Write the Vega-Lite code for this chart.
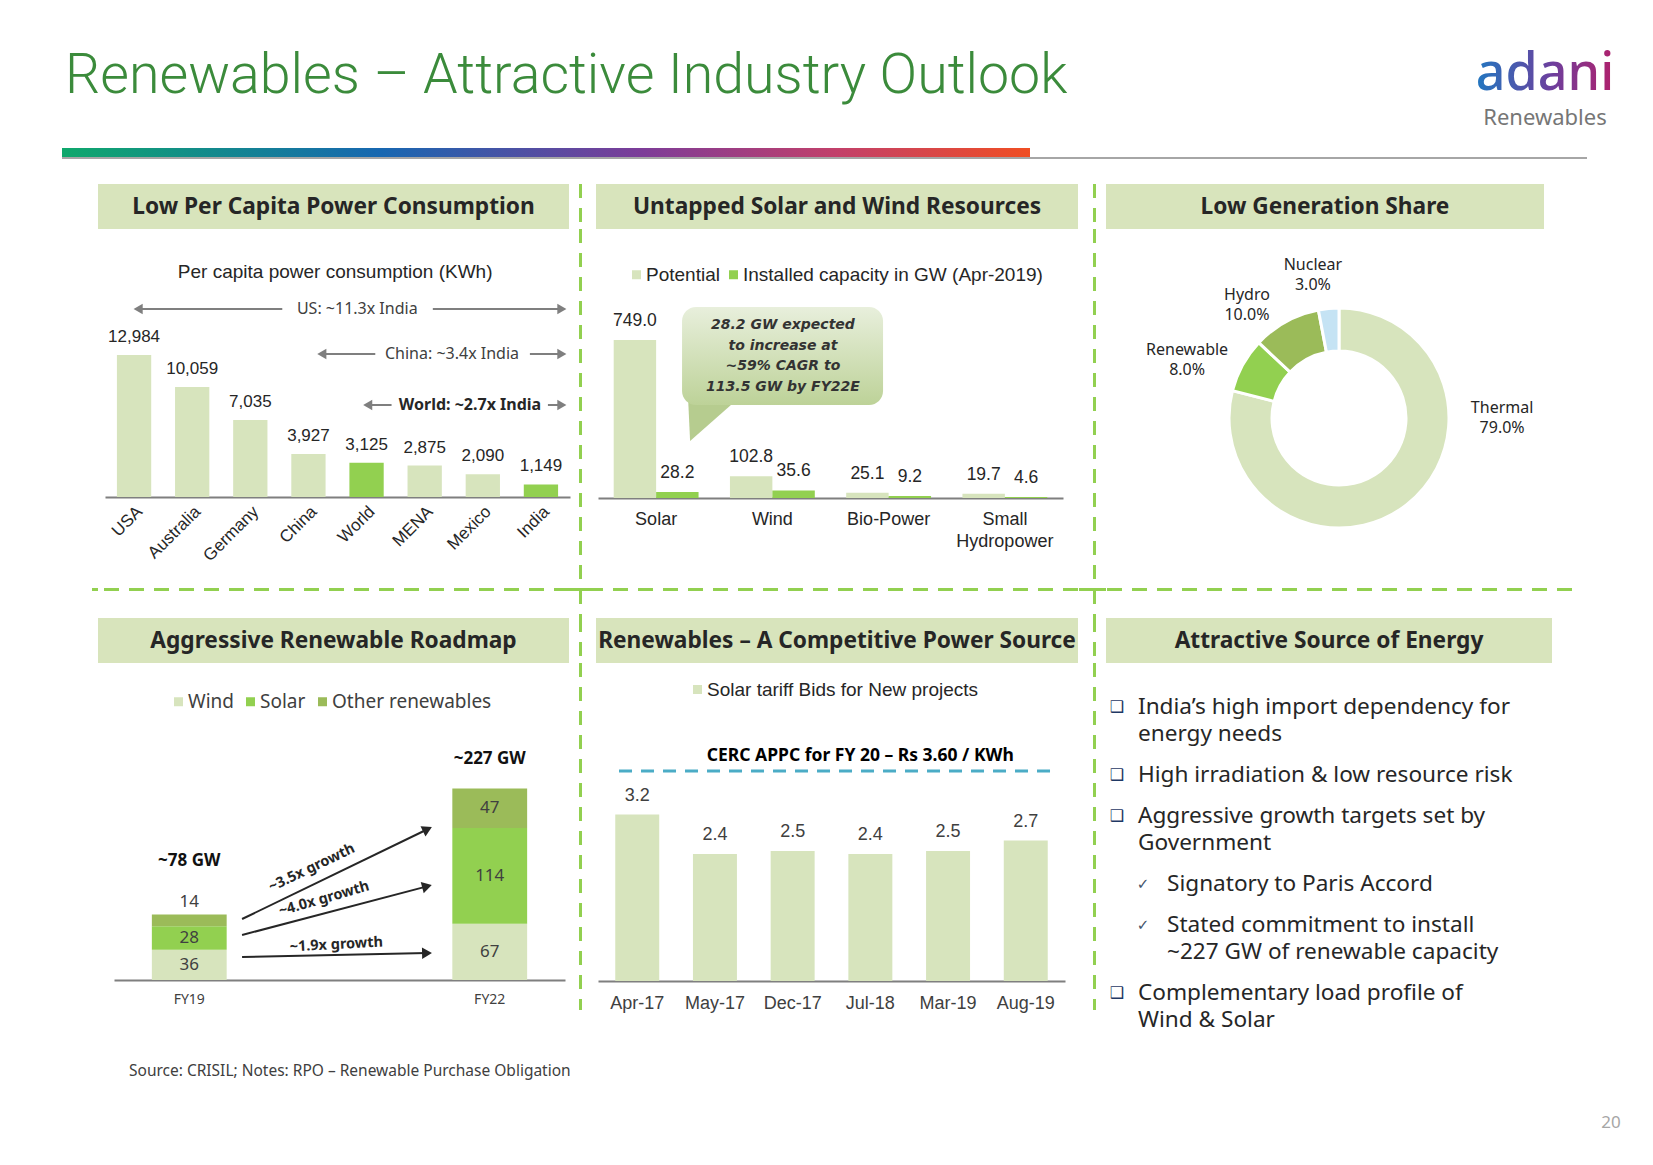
{
"$schema": "https://vega.github.io/schema/vega-lite/v6.json",
"padding": 0,
"background": "white",
"spacing": 0,
"resolve": {"scale": {"color": "independent", "xOffset": "independent", "theta": "independent"}},
"config": {"view": {"stroke": null}, "font": "Liberation Sans"},
"vconcat": [
 {"width": 1653, "height": 148, "view": {"fill": "white"}, "data": {"values": [{}]},
  "layer": [
   {"mark": {"type": "text", "text": "Renewables – Attractive Industry Outlook", "align": "left", "baseline": "alphabetic", "dx": -761.5, "dy": 19, "font": "Roboto", "fontWeight": 300, "fontSize": 55.5, "color": "#3b8b3b"}},
   {"mark": {"type": "text", "text": "adani", "align": "center", "baseline": "alphabetic", "dx": 718.5, "dy": 16, "font": "Noto Sans", "fontSize": 52, "fontWeight": 500, "fill": {"gradient": "linear", "x1": 0, "y1": 0, "x2": 1, "y2": 0, "stops": [{"offset": 0, "color": "#2277c0"}, {"offset": 0.55, "color": "#6d3f9d"}, {"offset": 1, "color": "#b0206c"}]}}},
   {"mark": {"type": "text", "text": "Renewables", "align": "center", "baseline": "alphabetic", "dx": 718.5, "dy": 51, "font": "Noto Sans", "fontSize": 22, "color": "#767676"}}
  ]},
 {"width": 1653, "height": 9, "view": {"fill": {"gradient": "linear", "x1": 0, "y1": 0, "x2": 1, "y2": 0, "stops": [{"offset": 0, "color": "#ffffff"}, {"offset": 0.0375, "color": "#ffffff"}, {"offset": 0.0375, "color": "#0fa86c"}, {"offset": 0.2307, "color": "#1767b1"}, {"offset": 0.3889, "color": "#7d3c98"}, {"offset": 0.506, "color": "#c2406a"}, {"offset": 0.6231, "color": "#f04e23"}, {"offset": 0.6231, "color": "#ffffff"}, {"offset": 1, "color": "#ffffff"}]}}, "data": {"values": []}, "mark": "text"},
 {"width": 1653, "height": 2, "view": {"fill": {"gradient": "linear", "x1": 0, "y1": 0, "x2": 1, "y2": 0, "stops": [{"offset": 0, "color": "#ffffff"}, {"offset": 0.0375, "color": "#ffffff"}, {"offset": 0.0375, "color": "#a6a6a6"}, {"offset": 0.9601, "color": "#a6a6a6"}, {"offset": 0.9601, "color": "#ffffff"}, {"offset": 1, "color": "#ffffff"}]}}, "data": {"values": []}, "mark": "text"},
 {"width": 1, "height": 23, "data": {"values": []}, "mark": "text"},
 {"columns": 11, "spacing": 0, "bounds": "flush", "align": "each",
  "resolve": {"scale": {"color": "independent", "xOffset": "independent", "theta": "independent"}},
  "concat": [
   {"width": 92, "height": 1, "data": {"values": []}, "mark": "text"},
   {"width": 6, "height": 1, "data": {"values": []}, "mark": "text"},
   {"width": 471, "height": 45, "view": {"fill": "#d8e4bc"}, "data": {"values": [{}]}, "mark": {"type": "text", "text": "Low Per Capita Power Consumption", "font": "Noto Sans", "fontSize": 22.7, "fontWeight": "bold", "color": "#262626", "baseline": "middle"}},
   {"width": 11, "height": 1, "data": {"values": []}, "mark": "text"},
   {"width": 1, "height": 45, "data": {"values": [{}]}, "mark": {"type": "rule", "color": "#92d050", "strokeWidth": 3, "strokeDash": [14, 10]}, "encoding": {"x": {"datum": 0, "type": "quantitative", "scale": {"domain": [-1, 1]}, "axis": null}}},
   {"width": 15, "height": 1, "data": {"values": []}, "mark": "text"},
   {"width": 482, "height": 45, "view": {"fill": "#d8e4bc"}, "data": {"values": [{}]}, "mark": {"type": "text", "text": "Untapped Solar and Wind Resources", "font": "Noto Sans", "fontSize": 22.7, "fontWeight": "bold", "color": "#262626", "baseline": "middle"}},
   {"width": 16, "height": 1, "data": {"values": []}, "mark": "text"},
   {"width": 1, "height": 45, "data": {"values": [{}]}, "mark": {"type": "rule", "color": "#92d050", "strokeWidth": 3, "strokeDash": [14, 10]}, "encoding": {"x": {"datum": 0, "type": "quantitative", "scale": {"domain": [-1, 1]}, "axis": null}}},
   {"width": 11, "height": 1, "data": {"values": []}, "mark": "text"},
   {"width": 438, "height": 45, "view": {"fill": "#d8e4bc"}, "data": {"values": [{}]}, "mark": {"type": "text", "text": "Low Generation Share", "font": "Noto Sans", "fontSize": 22.7, "fontWeight": "bold", "color": "#262626", "baseline": "middle"}},

   {"width": 92, "height": 1, "data": {"values": []}, "mark": "text"},
   {"width": 6, "height": 1, "data": {"values": []}, "mark": "text"},
   {"width": 471, "height": 268,
    "resolve": {"scale": {"x": "independent"}},
    "layer": [
     {"data": {"values": [
        {"country": "USA", "kwh": 12984},
        {"country": "Australia", "kwh": 10059},
        {"country": "Germany", "kwh": 7035},
        {"country": "China", "kwh": 3927},
        {"country": "World", "kwh": 3125},
        {"country": "MENA", "kwh": 2875},
        {"country": "Mexico", "kwh": 2090},
        {"country": "India", "kwh": 1149}]},
      "encoding": {
        "x": {"field": "country", "type": "nominal", "sort": null, "scale": {"range": [7, 472], "paddingInner": 0.41, "paddingOuter": 0.205}, "axis": {"title": null, "labelAngle": -45, "ticks": false, "domainColor": "#7f7f7f", "domainWidth": 2, "labelFont": "Liberation Sans", "labelFontSize": 17, "labelColor": "#262626", "labelPadding": 6, "labelOverlap": false, "grid": false}},
        "y": {"field": "kwh", "type": "quantitative", "scale": {"domain": [0, 24500], "nice": false}, "axis": null}
      },
      "layer": [
        {"mark": {"type": "bar"}, "encoding": {"color": {"condition": {"test": "datum.country === 'World' || datum.country === 'India'", "value": "#92d050"}, "value": "#d7e4bd"}}},
        {"mark": {"type": "text", "baseline": "alphabetic", "dy": -13, "font": "Liberation Sans", "fontSize": 17, "color": "#262626"}, "encoding": {"text": {"field": "kwh", "type": "quantitative", "format": ","}}}
      ]},
     {"data": {"values": [{}]},
      "layer": [
        {"mark": {"type": "text", "text": "Per capita power consumption (KWh)", "font": "Liberation Sans", "fontSize": 19, "color": "#262626", "baseline": "middle"}, "encoding": {"x": {"datum": 3.96, "type": "quantitative", "scale": {"domain": [0, 8], "range": [7, 472], "nice": false, "zero": false}, "axis": null}, "y": {"datum": 20567, "type": "quantitative", "scale": {"domain": [0, 24500], "nice": false}, "axis": null}}},
        {"mark": {"type": "rule", "color": "#7f7f7f", "strokeWidth": 2}, "encoding": {"x": {"datum": 0.57, "type": "quantitative", "scale": {"domain": [0, 8], "range": [7, 472], "nice": false, "zero": false}, "axis": null}, "x2": {"datum": 3.05}, "y": {"datum": 17185, "type": "quantitative", "scale": {"domain": [0, 24500], "nice": false}, "axis": null}}},
        {"mark": {"type": "rule", "color": "#7f7f7f", "strokeWidth": 2}, "encoding": {"x": {"datum": 5.64, "type": "quantitative", "scale": {"domain": [0, 8], "range": [7, 472], "nice": false, "zero": false}, "axis": null}, "x2": {"datum": 7.86}, "y": {"datum": 17185, "type": "quantitative", "scale": {"domain": [0, 24500], "nice": false}, "axis": null}}},
        {"mark": {"type": "point", "shape": "triangle-left", "size": 110, "filled": true, "color": "#7f7f7f", "opacity": 1}, "encoding": {"x": {"datum": 0.57, "type": "quantitative", "scale": {"domain": [0, 8], "range": [7, 472], "nice": false, "zero": false}, "axis": null}, "y": {"datum": 17185, "type": "quantitative", "scale": {"domain": [0, 24500], "nice": false}, "axis": null}}},
        {"mark": {"type": "point", "shape": "triangle-right", "size": 110, "filled": true, "color": "#7f7f7f", "opacity": 1}, "encoding": {"x": {"datum": 7.86, "type": "quantitative", "scale": {"domain": [0, 8], "range": [7, 472], "nice": false, "zero": false}, "axis": null}, "y": {"datum": 17185, "type": "quantitative", "scale": {"domain": [0, 24500], "nice": false}, "axis": null}}},
        {"mark": {"type": "text", "text": "US: ~11.3x India", "font": "Noto Sans", "fontSize": 16, "color": "#404040", "baseline": "middle"}, "encoding": {"x": {"datum": 4.34, "type": "quantitative", "scale": {"domain": [0, 8], "range": [7, 472], "nice": false, "zero": false}, "axis": null}, "y": {"datum": 17185, "type": "quantitative", "scale": {"domain": [0, 24500], "nice": false}, "axis": null}}},
        {"mark": {"type": "rule", "color": "#7f7f7f", "strokeWidth": 2}, "encoding": {"x": {"datum": 3.73, "type": "quantitative", "scale": {"domain": [0, 8], "range": [7, 472], "nice": false, "zero": false}, "axis": null}, "x2": {"datum": 4.65}, "y": {"datum": 13071, "type": "quantitative", "scale": {"domain": [0, 24500], "nice": false}, "axis": null}}},
        {"mark": {"type": "rule", "color": "#7f7f7f", "strokeWidth": 2}, "encoding": {"x": {"datum": 7.31, "type": "quantitative", "scale": {"domain": [0, 8], "range": [7, 472], "nice": false, "zero": false}, "axis": null}, "x2": {"datum": 7.86}, "y": {"datum": 13071, "type": "quantitative", "scale": {"domain": [0, 24500], "nice": false}, "axis": null}}},
        {"mark": {"type": "point", "shape": "triangle-left", "size": 110, "filled": true, "color": "#7f7f7f", "opacity": 1}, "encoding": {"x": {"datum": 3.73, "type": "quantitative", "scale": {"domain": [0, 8], "range": [7, 472], "nice": false, "zero": false}, "axis": null}, "y": {"datum": 13071, "type": "quantitative", "scale": {"domain": [0, 24500], "nice": false}, "axis": null}}},
        {"mark": {"type": "point", "shape": "triangle-right", "size": 110, "filled": true, "color": "#7f7f7f", "opacity": 1}, "encoding": {"x": {"datum": 7.86, "type": "quantitative", "scale": {"domain": [0, 8], "range": [7, 472], "nice": false, "zero": false}, "axis": null}, "y": {"datum": 13071, "type": "quantitative", "scale": {"domain": [0, 24500], "nice": false}, "axis": null}}},
        {"mark": {"type": "text", "text": "China: ~3.4x India", "font": "Noto Sans", "fontSize": 16, "color": "#404040", "baseline": "middle"}, "encoding": {"x": {"datum": 5.97, "type": "quantitative", "scale": {"domain": [0, 8], "range": [7, 472], "nice": false, "zero": false}, "axis": null}, "y": {"datum": 13071, "type": "quantitative", "scale": {"domain": [0, 24500], "nice": false}, "axis": null}}},
        {"mark": {"type": "rule", "color": "#7f7f7f", "strokeWidth": 2}, "encoding": {"x": {"datum": 4.52, "type": "quantitative", "scale": {"domain": [0, 8], "range": [7, 472], "nice": false, "zero": false}, "axis": null}, "x2": {"datum": 4.93}, "y": {"datum": 8410, "type": "quantitative", "scale": {"domain": [0, 24500], "nice": false}, "axis": null}}},
        {"mark": {"type": "rule", "color": "#7f7f7f", "strokeWidth": 2}, "encoding": {"x": {"datum": 7.62, "type": "quantitative", "scale": {"domain": [0, 8], "range": [7, 472], "nice": false, "zero": false}, "axis": null}, "x2": {"datum": 7.86}, "y": {"datum": 8410, "type": "quantitative", "scale": {"domain": [0, 24500], "nice": false}, "axis": null}}},
        {"mark": {"type": "point", "shape": "triangle-left", "size": 110, "filled": true, "color": "#7f7f7f", "opacity": 1}, "encoding": {"x": {"datum": 4.52, "type": "quantitative", "scale": {"domain": [0, 8], "range": [7, 472], "nice": false, "zero": false}, "axis": null}, "y": {"datum": 8410, "type": "quantitative", "scale": {"domain": [0, 24500], "nice": false}, "axis": null}}},
        {"mark": {"type": "point", "shape": "triangle-right", "size": 110, "filled": true, "color": "#7f7f7f", "opacity": 1}, "encoding": {"x": {"datum": 7.86, "type": "quantitative", "scale": {"domain": [0, 8], "range": [7, 472], "nice": false, "zero": false}, "axis": null}, "y": {"datum": 8410, "type": "quantitative", "scale": {"domain": [0, 24500], "nice": false}, "axis": null}}},
        {"mark": {"type": "text", "text": "World: ~2.7x India", "font": "Noto Sans", "fontSize": 16, "fontWeight": "bold", "color": "#262626", "baseline": "middle"}, "encoding": {"x": {"datum": 6.28, "type": "quantitative", "scale": {"domain": [0, 8], "range": [7, 472], "nice": false, "zero": false}, "axis": null}, "y": {"datum": 8410, "type": "quantitative", "scale": {"domain": [0, 24500], "nice": false}, "axis": null}}}
      ]}
    ]},
   {"width": 11, "height": 1, "data": {"values": []}, "mark": "text"},
   {"width": 1, "height": 360, "data": {"values": [{}]}, "mark": {"type": "rule", "color": "#92d050", "strokeWidth": 3, "strokeDash": [14, 10]}, "encoding": {"x": {"datum": 0, "type": "quantitative", "scale": {"domain": [-1, 1]}, "axis": null}}},
   {"width": 15, "height": 1, "data": {"values": []}, "mark": "text"},
   {"width": 482, "height": 269,
    "resolve": {"scale": {"x": "independent"}},
    "layer": [
     {"data": {"values": [
        {"resource": "Solar", "series": "Potential", "gw": 749.0},
        {"resource": "Solar", "series": "Installed capacity in GW (Apr-2019)", "gw": 28.2},
        {"resource": "Wind", "series": "Potential", "gw": 102.8},
        {"resource": "Wind", "series": "Installed capacity in GW (Apr-2019)", "gw": 35.6},
        {"resource": "Bio-Power", "series": "Potential", "gw": 25.1},
        {"resource": "Bio-Power", "series": "Installed capacity in GW (Apr-2019)", "gw": 9.2},
        {"resource": "Small Hydropower", "series": "Potential", "gw": 19.7},
        {"resource": "Small Hydropower", "series": "Installed capacity in GW (Apr-2019)", "gw": 4.6}]},
      "encoding": {
        "x": {"field": "resource", "type": "nominal", "sort": null, "scale": {"range": [2, 467], "paddingInner": 0.27, "paddingOuter": 0.135}, "axis": {"title": null, "labelAngle": 0, "ticks": false, "domainColor": "#7f7f7f", "domainWidth": 2, "labelFont": "Liberation Sans", "labelFontSize": 18, "labelColor": "#262626", "labelPadding": 12, "labelExpr": "split(datum.label, ' ')", "labelLineHeight": 22, "labelOverlap": false, "grid": false}},
        "xOffset": {"field": "series", "type": "nominal", "sort": null},
        "y": {"field": "gw", "type": "quantitative", "scale": {"domain": [0, 1275.5], "nice": false}, "axis": null}
      },
      "layer": [
        {"mark": {"type": "bar"}, "encoding": {"color": {"field": "series", "type": "nominal", "sort": null, "scale": {"domain": ["Potential", "Installed capacity in GW (Apr-2019)"], "range": ["#d7e4bd", "#92d050"]}, "legend": {"orient": "none", "legendX": 31, "legendY": 36, "direction": "horizontal", "title": null, "symbolType": "square", "symbolSize": 81, "symbolStrokeWidth": 0, "labelFont": "Liberation Sans", "labelFontSize": 19, "labelColor": "#262626", "labelLimit": 400, "columnPadding": 4, "labelOffset": 0, "padding": 0}}}},
        {"mark": {"type": "text", "baseline": "alphabetic", "dy": -14, "font": "Liberation Sans", "fontSize": 17.5, "color": "#262626"}, "encoding": {"text": {"field": "gw", "type": "quantitative", "format": ".1f"}}}
      ]},
     {"data": {"values": [{}]},
      "layer": [
        {"mark": {"type": "point", "shape": "M-1,-0.85L1,-0.85L-0.92,0.85Z", "size": 2704, "filled": true, "color": "#b6cc8f", "opacity": 1, "strokeWidth": 0}, "encoding": {"x": {"datum": 0.998, "type": "quantitative", "scale": {"domain": [0, 4], "range": [2, 467], "nice": false, "zero": false}, "axis": null}, "y": {"datum": 374.6, "type": "quantitative", "scale": {"domain": [0, 1275.5], "nice": false}, "axis": null}}},
        {"mark": {"type": "rect", "cornerRadius": 14, "fill": {"gradient": "linear", "x1": 0, "y1": 0, "x2": 0, "y2": 1, "stops": [{"offset": 0, "color": "#e8efdc"}, {"offset": 1, "color": "#bdd298"}]}}, "encoding": {"x": {"datum": 0.723, "type": "quantitative", "scale": {"domain": [0, 4], "range": [2, 467], "nice": false, "zero": false}, "axis": null}, "x2": {"datum": 2.452}, "y": {"datum": 905.6, "type": "quantitative", "scale": {"domain": [0, 1275.5], "nice": false}, "axis": null}, "y2": {"datum": 441}}},
        {"mark": {"type": "text", "text": ["28.2 GW expected", "to increase at", "~59% CAGR to", "113.5 GW by FY22E"], "font": "DejaVu Sans", "fontSize": 14, "fontWeight": "bold", "fontStyle": "italic", "lineHeight": 20.7, "baseline": "middle", "color": "#333333"}, "encoding": {"x": {"datum": 1.591, "type": "quantitative", "scale": {"domain": [0, 4], "range": [2, 467], "nice": false, "zero": false}, "axis": null}, "y": {"datum": 820.3, "type": "quantitative", "scale": {"domain": [0, 1275.5], "nice": false}, "axis": null}}}
      ]}
    ]},
   {"width": 16, "height": 1, "data": {"values": []}, "mark": "text"},
   {"width": 1, "height": 360, "data": {"values": [{}]}, "mark": {"type": "rule", "color": "#92d050", "strokeWidth": 3, "strokeDash": [14, 10]}, "encoding": {"x": {"datum": 0, "type": "quantitative", "scale": {"domain": [-1, 1]}, "axis": null}}},
   {"width": 11, "height": 1, "data": {"values": []}, "mark": "text"},
   {"width": 466, "height": 360,
    "layer": [
     {"data": {"values": [
        {"source": "Thermal", "share": 79, "seq": 1},
        {"source": "Renewable", "share": 8, "seq": 2},
        {"source": "Hydro", "share": 10, "seq": 3},
        {"source": "Nuclear", "share": 3, "seq": 4}]},
      "mark": {"type": "arc", "outerRadius": 110, "innerRadius": 67, "stroke": "white", "strokeWidth": 3, "yOffset": 9},
      "encoding": {
        "theta": {"field": "share", "type": "quantitative", "stack": true},
        "color": {"field": "source", "type": "nominal", "scale": {"domain": ["Thermal", "Renewable", "Hydro", "Nuclear"], "range": ["#d7e4bd", "#92d050", "#9bbb59", "#c5e3f4"]}, "legend": null},
        "order": {"field": "seq", "type": "quantitative"}
      }},
     {"data": {"values": [{}]},
      "layer": [
        {"mark": {"type": "text", "text": ["Nuclear", "3.0%"], "font": "Noto Sans", "fontSize": 16, "lineHeight": 20, "baseline": "middle", "color": "#262626"}, "encoding": {"x": {"datum": -0.112, "type": "quantitative", "scale": {"domain": [-1, 1], "nice": false, "zero": false}, "axis": null}, "y": {"datum": 0.8, "type": "quantitative", "scale": {"domain": [-1, 1], "nice": false, "zero": false}, "axis": null}}},
        {"mark": {"type": "text", "text": ["Hydro", "10.0%"], "font": "Noto Sans", "fontSize": 16, "lineHeight": 20, "baseline": "middle", "color": "#262626"}, "encoding": {"x": {"datum": -0.395, "type": "quantitative", "scale": {"domain": [-1, 1], "nice": false, "zero": false}, "axis": null}, "y": {"datum": 0.634, "type": "quantitative", "scale": {"domain": [-1, 1], "nice": false, "zero": false}, "axis": null}}},
        {"mark": {"type": "text", "text": ["Renewable", "8.0%"], "font": "Noto Sans", "fontSize": 16, "lineHeight": 20, "baseline": "middle", "color": "#262626"}, "encoding": {"x": {"datum": -0.652, "type": "quantitative", "scale": {"domain": [-1, 1], "nice": false, "zero": false}, "axis": null}, "y": {"datum": 0.328, "type": "quantitative", "scale": {"domain": [-1, 1], "nice": false, "zero": false}, "axis": null}}},
        {"mark": {"type": "text", "text": ["Thermal", "79.0%"], "font": "Noto Sans", "fontSize": 16, "lineHeight": 20, "baseline": "middle", "color": "#262626"}, "encoding": {"x": {"datum": 0.7, "type": "quantitative", "scale": {"domain": [-1, 1], "nice": false, "zero": false}, "axis": null}, "y": {"datum": 0.006, "type": "quantitative", "scale": {"domain": [-1, 1], "nice": false, "zero": false}, "axis": null}}}
      ]}
    ]},

   {"width": 92, "height": 1, "data": {"values": []}, "mark": "text"},
   {"width": 6, "height": 1, "data": {"values": [{}]}, "mark": {"type": "rule", "color": "#92d050", "strokeWidth": 3}, "encoding": {"y": {"datum": 0, "type": "quantitative", "scale": {"domain": [-1, 1]}, "axis": null}}},
   {"width": 471, "height": 1, "data": {"values": [{}]}, "mark": {"type": "rule", "color": "#92d050", "strokeWidth": 3, "strokeDash": [15, 10]}, "encoding": {"y": {"datum": 0, "type": "quantitative", "scale": {"domain": [-1, 1]}, "axis": null}}},
   {"width": 11, "height": 1, "data": {"values": [{}]}, "mark": {"type": "rule", "color": "#92d050", "strokeWidth": 3, "strokeDash": [15, 10]}, "encoding": {"y": {"datum": 0, "type": "quantitative", "scale": {"domain": [-1, 1]}, "axis": null}}},
   {"width": 1, "height": 1, "data": {"values": [{}]}, "mark": {"type": "rule", "color": "#92d050", "strokeWidth": 3}, "encoding": {"y": {"datum": 0, "type": "quantitative", "scale": {"domain": [-1, 1]}, "axis": null}}},
   {"width": 15, "height": 1, "data": {"values": [{}]}, "mark": {"type": "rule", "color": "#92d050", "strokeWidth": 3, "strokeDash": [15, 10]}, "encoding": {"y": {"datum": 0, "type": "quantitative", "scale": {"domain": [-1, 1]}, "axis": null}}},
   {"width": 482, "height": 1, "data": {"values": [{}]}, "mark": {"type": "rule", "color": "#92d050", "strokeWidth": 3, "strokeDash": [15, 10]}, "encoding": {"y": {"datum": 0, "type": "quantitative", "scale": {"domain": [-1, 1]}, "axis": null}}},
   {"width": 16, "height": 1, "data": {"values": [{}]}, "mark": {"type": "rule", "color": "#92d050", "strokeWidth": 3, "strokeDash": [15, 10]}, "encoding": {"y": {"datum": 0, "type": "quantitative", "scale": {"domain": [-1, 1]}, "axis": null}}},
   {"width": 1, "height": 1, "data": {"values": [{}]}, "mark": {"type": "rule", "color": "#92d050", "strokeWidth": 3}, "encoding": {"y": {"datum": 0, "type": "quantitative", "scale": {"domain": [-1, 1]}, "axis": null}}},
   {"width": 11, "height": 1, "data": {"values": [{}]}, "mark": {"type": "rule", "color": "#92d050", "strokeWidth": 3, "strokeDash": [15, 10]}, "encoding": {"y": {"datum": 0, "type": "quantitative", "scale": {"domain": [-1, 1]}, "axis": null}}},
   {"width": 466, "height": 1, "data": {"values": [{}]}, "mark": {"type": "rule", "color": "#92d050", "strokeWidth": 3, "strokeDash": [15, 10]}, "encoding": {"y": {"datum": 0, "type": "quantitative", "scale": {"domain": [-1, 1]}, "axis": null}}},

   {"width": 92, "height": 28, "data": {"values": []}, "mark": "text"},
   {"width": 6, "height": 1, "data": {"values": []}, "mark": "text"},
   {"width": 1, "height": 1, "data": {"values": []}, "mark": "text"},
   {"width": 11, "height": 1, "data": {"values": []}, "mark": "text"},
   {"width": 1, "height": 28, "data": {"values": [{}]}, "mark": {"type": "rule", "color": "#92d050", "strokeWidth": 3, "strokeDash": [14, 10]}, "encoding": {"x": {"datum": 0, "type": "quantitative", "scale": {"domain": [-1, 1]}, "axis": null}}},
   {"width": 15, "height": 1, "data": {"values": []}, "mark": "text"},
   {"width": 1, "height": 1, "data": {"values": []}, "mark": "text"},
   {"width": 16, "height": 1, "data": {"values": []}, "mark": "text"},
   {"width": 1, "height": 28, "data": {"values": [{}]}, "mark": {"type": "rule", "color": "#92d050", "strokeWidth": 3, "strokeDash": [14, 10]}, "encoding": {"x": {"datum": 0, "type": "quantitative", "scale": {"domain": [-1, 1]}, "axis": null}}},
   {"width": 11, "height": 1, "data": {"values": []}, "mark": "text"},
   {"width": 1, "height": 1, "data": {"values": []}, "mark": "text"},

   {"width": 92, "height": 1, "data": {"values": []}, "mark": "text"},
   {"width": 6, "height": 1, "data": {"values": []}, "mark": "text"},
   {"width": 471, "height": 45, "view": {"fill": "#d8e4bc"}, "data": {"values": [{}]}, "mark": {"type": "text", "text": "Aggressive Renewable Roadmap", "font": "Noto Sans", "fontSize": 22.7, "fontWeight": "bold", "color": "#262626", "baseline": "middle"}},
   {"width": 11, "height": 1, "data": {"values": []}, "mark": "text"},
   {"width": 1, "height": 45, "data": {"values": [{}]}, "mark": {"type": "rule", "color": "#92d050", "strokeWidth": 3, "strokeDash": [14, 10]}, "encoding": {"x": {"datum": 0, "type": "quantitative", "scale": {"domain": [-1, 1]}, "axis": null}}},
   {"width": 15, "height": 1, "data": {"values": []}, "mark": "text"},
   {"width": 482, "height": 45, "view": {"fill": "#d8e4bc"}, "data": {"values": [{}]}, "mark": {"type": "text", "text": "Renewables – A Competitive Power Source", "font": "Noto Sans", "fontSize": 22.7, "fontWeight": "bold", "color": "#262626", "baseline": "middle"}},
   {"width": 16, "height": 1, "data": {"values": []}, "mark": "text"},
   {"width": 1, "height": 45, "data": {"values": [{}]}, "mark": {"type": "rule", "color": "#92d050", "strokeWidth": 3, "strokeDash": [14, 10]}, "encoding": {"x": {"datum": 0, "type": "quantitative", "scale": {"domain": [-1, 1]}, "axis": null}}},
   {"width": 11, "height": 1, "data": {"values": []}, "mark": "text"},
   {"width": 446, "height": 45, "view": {"fill": "#d8e4bc"}, "data": {"values": [{}]}, "mark": {"type": "text", "text": "Attractive Source of Energy", "font": "Noto Sans", "fontSize": 22.7, "fontWeight": "bold", "color": "#262626", "baseline": "middle"}},

   {"width": 92, "height": 1, "data": {"values": []}, "mark": "text"},
   {"width": 6, "height": 1, "data": {"values": []}, "mark": "text"},
   {"width": 471, "height": 317,
    "resolve": {"scale": {"x": "independent"}},
    "layer": [
     {"layer": [
        {"data": {"values": [
           {"year": "FY19", "source": "Wind", "gw": 36},
           {"year": "FY19", "source": "Solar", "gw": 28},
           {"year": "FY19", "source": "Other renewables", "gw": 14},
           {"year": "FY22", "source": "Wind", "gw": 67},
           {"year": "FY22", "source": "Solar", "gw": 114},
           {"year": "FY22", "source": "Other renewables", "gw": 47}]},
         "mark": {"type": "bar"},
         "encoding": {
           "x": {"field": "year", "type": "nominal", "scale": {"range": [16, 467], "paddingInner": 0.751, "paddingOuter": 0.126}, "axis": {"title": null, "labelAngle": 0, "ticks": false, "domainColor": "#7f7f7f", "domainWidth": 2, "labelFont": "Noto Sans", "labelFontSize": 14, "labelColor": "#404040", "labelPadding": 12, "grid": false}},
           "y": {"field": "gw", "type": "quantitative", "stack": "zero", "scale": {"domain": [0, 377.4], "nice": false}, "axis": null},
           "color": {"field": "source", "type": "nominal", "scale": {"domain": ["Wind", "Solar", "Other renewables"], "range": ["#d7e4bd", "#92d050", "#9bbb59"]}, "legend": {"orient": "none", "legendX": 71, "legendY": 29, "direction": "horizontal", "title": null, "symbolType": "square", "symbolSize": 81, "symbolStrokeWidth": 0, "labelFont": "Noto Sans", "labelFontSize": 19, "labelColor": "#404040", "labelLimit": 300, "columnPadding": 7, "labelOffset": 0, "padding": 0}},
           "order": {"field": "source", "type": "nominal", "sort": "descending"}
         }},
        {"data": {"values": [
           {"year": "FY19", "source": "Wind", "gw": 36},
           {"year": "FY19", "source": "Solar", "gw": 28},
           {"year": "FY19", "source": "Other renewables", "gw": 14},
           {"year": "FY22", "source": "Wind", "gw": 67},
           {"year": "FY22", "source": "Solar", "gw": 114},
           {"year": "FY22", "source": "Other renewables", "gw": 47}]},
         "mark": {"type": "text", "font": "Noto Sans", "fontSize": 17, "color": "#404040", "baseline": "middle"},
         "encoding": {
           "x": {"field": "year", "type": "nominal", "scale": {"range": [16, 467], "paddingInner": 0.751, "paddingOuter": 0.126}, "axis": {"title": null, "labelAngle": 0, "ticks": false, "domainColor": "#7f7f7f", "domainWidth": 2, "labelFont": "Noto Sans", "labelFontSize": 14, "labelColor": "#404040", "labelPadding": 12, "grid": false}},
           "y": {"field": "gw", "type": "quantitative", "stack": "zero", "bandPosition": 0.5, "scale": {"domain": [0, 377.4], "nice": false}, "axis": null},
           "detail": {"field": "source", "type": "nominal"},
           "order": {"field": "source", "type": "nominal", "sort": "descending"},
           "text": {"field": "gw", "type": "quantitative", "condition": {"test": "datum.year === 'FY19' && datum.source === 'Other renewables'", "value": ""}}
         }},
        {"data": {"values": [
           {"year": "FY19", "source": "Wind", "gw": 36},
           {"year": "FY19", "source": "Solar", "gw": 28},
           {"year": "FY19", "source": "Other renewables", "gw": 14},
           {"year": "FY22", "source": "Wind", "gw": 67},
           {"year": "FY22", "source": "Solar", "gw": 114},
           {"year": "FY22", "source": "Other renewables", "gw": 47}]},
         "mark": {"type": "text", "font": "Noto Sans", "fontSize": 17, "color": "#404040", "baseline": "bottom", "dy": -3},
         "encoding": {
           "x": {"field": "year", "type": "nominal", "scale": {"range": [16, 467], "paddingInner": 0.751, "paddingOuter": 0.126}, "axis": {"title": null, "labelAngle": 0, "ticks": false, "domainColor": "#7f7f7f", "domainWidth": 2, "labelFont": "Noto Sans", "labelFontSize": 14, "labelColor": "#404040", "labelPadding": 12, "grid": false}},
           "y": {"field": "gw", "type": "quantitative", "stack": "zero", "scale": {"domain": [0, 377.4], "nice": false}, "axis": null},
           "detail": {"field": "source", "type": "nominal"},
           "order": {"field": "source", "type": "nominal", "sort": "descending"},
           "text": {"condition": {"test": "datum.year === 'FY19' && datum.source === 'Other renewables'", "field": "gw", "type": "quantitative"}, "value": ""}
         }},
        {"data": {"values": [{}]},
         "mark": {"type": "text", "text": "~78 GW", "font": "Noto Sans", "fontSize": 17, "fontWeight": "bold", "color": "#111111", "baseline": "middle"},
         "encoding": {
           "x": {"datum": "FY19", "type": "nominal", "scale": {"range": [16, 467], "paddingInner": 0.751, "paddingOuter": 0.126}, "axis": {"title": null, "labelAngle": 0, "ticks": false, "domainColor": "#7f7f7f", "domainWidth": 2, "labelFont": "Noto Sans", "labelFontSize": 14, "labelColor": "#404040", "labelPadding": 12, "grid": false}},
           "y": {"datum": 141.7, "type": "quantitative", "scale": {"domain": [0, 377.4], "nice": false}, "axis": null}
         }},
        {"data": {"values": [{}]},
         "mark": {"type": "text", "text": "~227 GW", "font": "Noto Sans", "fontSize": 17, "fontWeight": "bold", "color": "#111111", "baseline": "middle"},
         "encoding": {
           "x": {"datum": "FY22", "type": "nominal", "scale": {"range": [16, 467], "paddingInner": 0.751, "paddingOuter": 0.126}, "axis": {"title": null, "labelAngle": 0, "ticks": false, "domainColor": "#7f7f7f", "domainWidth": 2, "labelFont": "Noto Sans", "labelFontSize": 14, "labelColor": "#404040", "labelPadding": 12, "grid": false}},
           "y": {"datum": 263.1, "type": "quantitative", "scale": {"domain": [0, 377.4], "nice": false}, "axis": null}
         }}
      ]},
     {"data": {"values": [{}]},
      "layer": [
        {"mark": {"type": "rule", "color": "#262626", "strokeWidth": 2}, "encoding": {"x": {"datum": 0.284, "type": "quantitative", "scale": {"domain": [0, 1], "range": [16, 467], "nice": false, "zero": false}, "axis": null}, "x2": {"datum": 0.695}, "y": {"datum": 72.6, "type": "quantitative", "scale": {"domain": [0, 377.4], "nice": false}, "axis": null}, "y2": {"datum": 179.5}}},
        {"mark": {"type": "point", "shape": "triangle-right", "size": 130, "angle": 334, "filled": true, "color": "#262626", "opacity": 1}, "encoding": {"x": {"datum": 0.695, "type": "quantitative", "scale": {"domain": [0, 1], "range": [16, 467], "nice": false, "zero": false}, "axis": null}, "y": {"datum": 179.5, "type": "quantitative", "scale": {"domain": [0, 377.4], "nice": false}, "axis": null}}},
        {"mark": {"type": "rule", "color": "#262626", "strokeWidth": 2}, "encoding": {"x": {"datum": 0.284, "type": "quantitative", "scale": {"domain": [0, 1], "range": [16, 467], "nice": false, "zero": false}, "axis": null}, "x2": {"datum": 0.694}, "y": {"datum": 53.6, "type": "quantitative", "scale": {"domain": [0, 377.4], "nice": false}, "axis": null}, "y2": {"datum": 111.5}}},
        {"mark": {"type": "point", "shape": "triangle-right", "size": 130, "angle": 345, "filled": true, "color": "#262626", "opacity": 1}, "encoding": {"x": {"datum": 0.694, "type": "quantitative", "scale": {"domain": [0, 1], "range": [16, 467], "nice": false, "zero": false}, "axis": null}, "y": {"datum": 111.5, "type": "quantitative", "scale": {"domain": [0, 377.4], "nice": false}, "axis": null}}},
        {"mark": {"type": "rule", "color": "#262626", "strokeWidth": 2}, "encoding": {"x": {"datum": 0.284, "type": "quantitative", "scale": {"domain": [0, 1], "range": [16, 467], "nice": false, "zero": false}, "axis": null}, "x2": {"datum": 0.694}, "y": {"datum": 27.4, "type": "quantitative", "scale": {"domain": [0, 377.4], "nice": false}, "axis": null}, "y2": {"datum": 32.0}}},
        {"mark": {"type": "point", "shape": "triangle-right", "size": 130, "angle": 359, "filled": true, "color": "#262626", "opacity": 1}, "encoding": {"x": {"datum": 0.694, "type": "quantitative", "scale": {"domain": [0, 1], "range": [16, 467], "nice": false, "zero": false}, "axis": null}, "y": {"datum": 32.0, "type": "quantitative", "scale": {"domain": [0, 377.4], "nice": false}, "axis": null}}},
        {"mark": {"type": "text", "text": "~3.5x growth", "angle": 334.5, "font": "Noto Sans", "fontSize": 14.5, "fontWeight": "bold", "color": "#262626", "baseline": "middle"}, "encoding": {"x": {"datum": 0.439, "type": "quantitative", "scale": {"domain": [0, 1], "range": [16, 467], "nice": false, "zero": false}, "axis": null}, "y": {"datum": 133.3, "type": "quantitative", "scale": {"domain": [0, 377.4], "nice": false}, "axis": null}}},
        {"mark": {"type": "text", "text": "~4.0x growth", "angle": 344, "font": "Noto Sans", "fontSize": 14.5, "fontWeight": "bold", "color": "#262626", "baseline": "middle"}, "encoding": {"x": {"datum": 0.466, "type": "quantitative", "scale": {"domain": [0, 1], "range": [16, 467], "nice": false, "zero": false}, "axis": null}, "y": {"datum": 96.4, "type": "quantitative", "scale": {"domain": [0, 377.4], "nice": false}, "axis": null}}},
        {"mark": {"type": "text", "text": "~1.9x growth", "angle": 357, "font": "Noto Sans", "fontSize": 14.5, "fontWeight": "bold", "color": "#262626", "baseline": "middle"}, "encoding": {"x": {"datum": 0.493, "type": "quantitative", "scale": {"domain": [0, 1], "range": [16, 467], "nice": false, "zero": false}, "axis": null}, "y": {"datum": 41.7, "type": "quantitative", "scale": {"domain": [0, 377.4], "nice": false}, "axis": null}}}
      ]}
    ]},
   {"width": 11, "height": 1, "data": {"values": []}, "mark": "text"},
   {"width": 1, "height": 347, "data": {"values": [{}]}, "mark": {"type": "rule", "color": "#92d050", "strokeWidth": 3, "strokeDash": [14, 10]}, "encoding": {"x": {"datum": 0, "type": "quantitative", "scale": {"domain": [-1, 1]}, "axis": null}}},
   {"width": 15, "height": 1, "data": {"values": []}, "mark": "text"},
   {"width": 482, "height": 318,
    "resolve": {"scale": {"x": "independent"}},
    "layer": [
     {"data": {"values": [
        {"month": "Apr-17", "tariff": 3.2},
        {"month": "May-17", "tariff": 2.44},
        {"month": "Dec-17", "tariff": 2.5},
        {"month": "Jul-18", "tariff": 2.44},
        {"month": "Mar-19", "tariff": 2.5},
        {"month": "Aug-19", "tariff": 2.7}]},
      "encoding": {
        "x": {"field": "month", "type": "ordinal", "sort": null, "scale": {"range": [2, 469], "paddingInner": 0.434, "paddingOuter": 0.222}, "axis": {"title": null, "labelAngle": 0, "ticks": false, "domainColor": "#7f7f7f", "domainWidth": 2, "labelFont": "Liberation Sans", "labelFontSize": 18, "labelColor": "#404040", "labelPadding": 13, "labelOverlap": false, "grid": false}},
        "y": {"field": "tariff", "type": "quantitative", "scale": {"domain": [0, 6.115], "nice": false}, "axis": null}
      },
      "layer": [
        {"mark": {"type": "bar"}, "encoding": {"color": {"datum": "Solar tariff Bids for New projects", "type": "nominal", "scale": {"range": ["#d7e4bd"]}, "legend": {"orient": "none", "legendX": 92, "legendY": 17, "direction": "horizontal", "title": null, "symbolType": "square", "symbolSize": 81, "symbolStrokeWidth": 0, "labelFont": "Liberation Sans", "labelFontSize": 19, "labelColor": "#262626", "labelLimit": 400, "labelOffset": 0, "padding": 0}}}},
        {"mark": {"type": "text", "baseline": "alphabetic", "dy": -14, "font": "Liberation Sans", "fontSize": 18, "color": "#404040"}, "encoding": {"text": {"field": "tariff", "type": "quantitative", "format": ".1f"}}}
      ]},
     {"data": {"values": [{}]},
      "layer": [
        {"mark": {"type": "rule", "color": "#4bacc6", "strokeWidth": 3, "strokeDash": [13, 9]}, "encoding": {"x": {"datum": 0.27, "type": "quantitative", "scale": {"domain": [0, 6], "range": [2, 469], "nice": false, "zero": false}, "axis": null}, "x2": {"datum": 5.86}, "y": {"datum": 4.04, "type": "quantitative", "scale": {"domain": [0, 6.115], "nice": false}, "axis": null}}},
        {"mark": {"type": "text", "text": "CERC APPC for FY 20 – Rs 3.60 / KWh", "font": "Noto Sans", "fontSize": 17.5, "fontWeight": "bold", "color": "#000000", "baseline": "middle"}, "encoding": {"x": {"datum": 3.37, "type": "quantitative", "scale": {"domain": [0, 6], "range": [2, 469], "nice": false, "zero": false}, "axis": null}, "y": {"datum": 4.33, "type": "quantitative", "scale": {"domain": [0, 6.115], "nice": false}, "axis": null}}}
      ]}
    ]},
   {"width": 16, "height": 1, "data": {"values": []}, "mark": "text"},
   {"width": 1, "height": 347, "data": {"values": [{}]}, "mark": {"type": "rule", "color": "#92d050", "strokeWidth": 3, "strokeDash": [14, 10]}, "encoding": {"x": {"datum": 0, "type": "quantitative", "scale": {"domain": [-1, 1]}, "axis": null}}},
   {"width": 11, "height": 1, "data": {"values": []}, "mark": "text"},
   {"width": 446, "height": 346, "data": {"values": [{}]},
    "layer": [
      {"mark": {"type": "text", "text": "❑", "font": "DejaVu Sans", "fontSize": 16, "color": "#1f3864", "baseline": "middle"}, "encoding": {"x": {"datum": 0.444, "type": "quantitative", "scale": {"domain": [0, 18], "nice": false, "zero": false}, "axis": null}, "y": {"datum": 0, "type": "quantitative", "scale": {"domain": [-1.618, 11.1], "reverse": true, "nice": false, "zero": false}, "axis": null}}},
      {"mark": {"type": "text", "text": "❑", "font": "DejaVu Sans", "fontSize": 16, "color": "#1f3864", "baseline": "middle"}, "encoding": {"x": {"datum": 0.444, "type": "quantitative", "scale": {"domain": [0, 18], "nice": false, "zero": false}, "axis": null}, "y": {"datum": 2.5, "type": "quantitative", "scale": {"domain": [-1.618, 11.1], "reverse": true, "nice": false, "zero": false}, "axis": null}}},
      {"mark": {"type": "text", "text": "❑", "font": "DejaVu Sans", "fontSize": 16, "color": "#1f3864", "baseline": "middle"}, "encoding": {"x": {"datum": 0.444, "type": "quantitative", "scale": {"domain": [0, 18], "nice": false, "zero": false}, "axis": null}, "y": {"datum": 4, "type": "quantitative", "scale": {"domain": [-1.618, 11.1], "reverse": true, "nice": false, "zero": false}, "axis": null}}},
      {"mark": {"type": "text", "text": "❑", "font": "DejaVu Sans", "fontSize": 16, "color": "#1f3864", "baseline": "middle"}, "encoding": {"x": {"datum": 0.444, "type": "quantitative", "scale": {"domain": [0, 18], "nice": false, "zero": false}, "axis": null}, "y": {"datum": 10.5, "type": "quantitative", "scale": {"domain": [-1.618, 11.1], "reverse": true, "nice": false, "zero": false}, "axis": null}}},
      {"mark": {"type": "text", "text": "✓", "font": "DejaVu Sans", "fontSize": 15, "color": "#44546a", "baseline": "middle"}, "encoding": {"x": {"datum": 1.493, "type": "quantitative", "scale": {"domain": [0, 18], "nice": false, "zero": false}, "axis": null}, "y": {"datum": 6.5, "type": "quantitative", "scale": {"domain": [-1.618, 11.1], "reverse": true, "nice": false, "zero": false}, "axis": null}}},
      {"mark": {"type": "text", "text": "✓", "font": "DejaVu Sans", "fontSize": 15, "color": "#44546a", "baseline": "middle"}, "encoding": {"x": {"datum": 1.493, "type": "quantitative", "scale": {"domain": [0, 18], "nice": false, "zero": false}, "axis": null}, "y": {"datum": 8, "type": "quantitative", "scale": {"domain": [-1.618, 11.1], "reverse": true, "nice": false, "zero": false}, "axis": null}}},
      {"mark": {"type": "text", "text": "India’s high import dependency for", "align": "left", "baseline": "middle", "font": "Noto Sans", "fontSize": 22.6, "color": "#262626"}, "encoding": {"x": {"datum": 1.291, "type": "quantitative", "scale": {"domain": [0, 18], "nice": false, "zero": false}, "axis": null}, "y": {"datum": 0, "type": "quantitative", "scale": {"domain": [-1.618, 11.1], "reverse": true, "nice": false, "zero": false}, "axis": null}}},
      {"mark": {"type": "text", "text": "energy needs", "align": "left", "baseline": "middle", "font": "Noto Sans", "fontSize": 22.6, "color": "#262626"}, "encoding": {"x": {"datum": 1.291, "type": "quantitative", "scale": {"domain": [0, 18], "nice": false, "zero": false}, "axis": null}, "y": {"datum": 1, "type": "quantitative", "scale": {"domain": [-1.618, 11.1], "reverse": true, "nice": false, "zero": false}, "axis": null}}},
      {"mark": {"type": "text", "text": "High irradiation & low resource risk", "align": "left", "baseline": "middle", "font": "Noto Sans", "fontSize": 22.6, "color": "#262626"}, "encoding": {"x": {"datum": 1.291, "type": "quantitative", "scale": {"domain": [0, 18], "nice": false, "zero": false}, "axis": null}, "y": {"datum": 2.5, "type": "quantitative", "scale": {"domain": [-1.618, 11.1], "reverse": true, "nice": false, "zero": false}, "axis": null}}},
      {"mark": {"type": "text", "text": "Aggressive growth targets set by", "align": "left", "baseline": "middle", "font": "Noto Sans", "fontSize": 22.6, "color": "#262626"}, "encoding": {"x": {"datum": 1.291, "type": "quantitative", "scale": {"domain": [0, 18], "nice": false, "zero": false}, "axis": null}, "y": {"datum": 4, "type": "quantitative", "scale": {"domain": [-1.618, 11.1], "reverse": true, "nice": false, "zero": false}, "axis": null}}},
      {"mark": {"type": "text", "text": "Government", "align": "left", "baseline": "middle", "font": "Noto Sans", "fontSize": 22.6, "color": "#262626"}, "encoding": {"x": {"datum": 1.291, "type": "quantitative", "scale": {"domain": [0, 18], "nice": false, "zero": false}, "axis": null}, "y": {"datum": 5, "type": "quantitative", "scale": {"domain": [-1.618, 11.1], "reverse": true, "nice": false, "zero": false}, "axis": null}}},
      {"mark": {"type": "text", "text": "Signatory to Paris Accord", "align": "left", "baseline": "middle", "font": "Noto Sans", "fontSize": 22.6, "color": "#262626"}, "encoding": {"x": {"datum": 2.462, "type": "quantitative", "scale": {"domain": [0, 18], "nice": false, "zero": false}, "axis": null}, "y": {"datum": 6.5, "type": "quantitative", "scale": {"domain": [-1.618, 11.1], "reverse": true, "nice": false, "zero": false}, "axis": null}}},
      {"mark": {"type": "text", "text": "Stated commitment to install", "align": "left", "baseline": "middle", "font": "Noto Sans", "fontSize": 22.6, "color": "#262626"}, "encoding": {"x": {"datum": 2.462, "type": "quantitative", "scale": {"domain": [0, 18], "nice": false, "zero": false}, "axis": null}, "y": {"datum": 8, "type": "quantitative", "scale": {"domain": [-1.618, 11.1], "reverse": true, "nice": false, "zero": false}, "axis": null}}},
      {"mark": {"type": "text", "text": "~227 GW of renewable capacity", "align": "left", "baseline": "middle", "font": "Noto Sans", "fontSize": 22.6, "color": "#262626"}, "encoding": {"x": {"datum": 2.462, "type": "quantitative", "scale": {"domain": [0, 18], "nice": false, "zero": false}, "axis": null}, "y": {"datum": 9, "type": "quantitative", "scale": {"domain": [-1.618, 11.1], "reverse": true, "nice": false, "zero": false}, "axis": null}}},
      {"mark": {"type": "text", "text": "Complementary load profile of", "align": "left", "baseline": "middle", "font": "Noto Sans", "fontSize": 22.6, "color": "#262626"}, "encoding": {"x": {"datum": 1.291, "type": "quantitative", "scale": {"domain": [0, 18], "nice": false, "zero": false}, "axis": null}, "y": {"datum": 10.5, "type": "quantitative", "scale": {"domain": [-1.618, 11.1], "reverse": true, "nice": false, "zero": false}, "axis": null}}},
      {"mark": {"type": "text", "text": "Wind & Solar", "align": "left", "baseline": "middle", "font": "Noto Sans", "fontSize": 22.6, "color": "#262626"}, "encoding": {"x": {"datum": 1.291, "type": "quantitative", "scale": {"domain": [0, 18], "nice": false, "zero": false}, "axis": null}, "y": {"datum": 11.5, "type": "quantitative", "scale": {"domain": [-1.618, 11.1], "reverse": true, "nice": false, "zero": false}, "axis": null}}}
    ]},

   {"width": 92, "height": 40, "data": {"values": []}, "mark": "text"},
   {"width": 1, "height": 1, "data": {"values": []}, "mark": "text"},
   {"width": 1, "height": 1, "data": {"values": []}, "mark": "text"},
   {"width": 1, "height": 1, "data": {"values": []}, "mark": "text"},
   {"width": 1, "height": 1, "data": {"values": []}, "mark": "text"},
   {"width": 1, "height": 1, "data": {"values": []}, "mark": "text"},
   {"width": 1, "height": 1, "data": {"values": []}, "mark": "text"},
   {"width": 1, "height": 1, "data": {"values": []}, "mark": "text"},
   {"width": 1, "height": 1, "data": {"values": []}, "mark": "text"},
   {"width": 1, "height": 1, "data": {"values": []}, "mark": "text"},
   {"width": 1, "height": 1, "data": {"values": []}, "mark": "text"}
  ]},
 {"width": 1653, "height": 117, "view": {"fill": "white"}, "data": {"values": [{}]},
  "layer": [
   {"mark": {"type": "text", "text": "Source: CRISIL; Notes: RPO – Renewable Purchase Obligation", "align": "left", "baseline": "middle", "dx": -697.5, "dy": -37.5, "font": "Noto Sans", "fontSize": 15.5, "color": "#404040"}},
   {"mark": {"type": "text", "text": "20", "align": "center", "baseline": "middle", "dx": 784.5, "dy": 14.5, "font": "Noto Sans", "fontSize": 17, "color": "#a6a6a6"}}
  ]}
]
}
